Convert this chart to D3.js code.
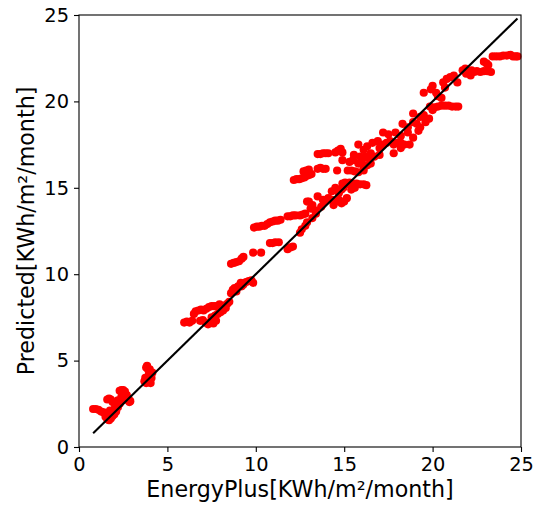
<!DOCTYPE html>
<html>
<head>
<meta charset="utf-8">
<script src="https://cdn.jsdelivr.net/npm/d3@7"></script>
<style>
  html, body { margin: 0; padding: 0; background: #fff; }
  svg { display: block; }
  text { font-family: "DejaVu Sans", sans-serif; fill: #000; }
</style>
</head>
<body>
<div id="chart"></div>
<script>
// ---- data ----
const energyPlus = [
  0.8,0.95,1.1,1.25,1.4,1.5,1.6,1.7,1.8,1.9,2.0,1.6,1.7,1.8,1.9,2.0,2.1,2.2,2.05,2.2,2.3,2.4,2.5,2.6,2.7,2.8,2.85,2.9,2.4,2.5,2.3,1.75,1.55,
  3.7,3.75,3.8,3.85,3.9,3.95,4.0,4.05,4.1,4.15,4.0,3.8,3.9,
  5.95,6.1,6.25,6.4,6.5,6.6,6.75,6.9,7.05,7.2,7.35,7.5,7.65,7.8,7.95,6.85,7.0,7.15,7.3,7.45,7.6,7.75,7.5,7.7,7.85,8.0,8.15,8.3,8.4,8.5,8.25,8.1,
  8.6,8.7,8.8,8.9,9.0,9.15,9.3,9.45,9.6,9.75,9.85,9.2,8.6,8.75,8.9,9.05,9.2,9.3,9.85,10.3,
  9.9,10.05,10.2,10.35,10.5,10.65,10.8,10.95,11.1,11.25,11.4,11.8,11.95,12.1,12.25,12.5,12.65,12.8,
  10.8,10.95,11.1,11.3,11.8,11.95,12.1,12.5,12.6,12.8,12.9,
  12.15,12.3,12.45,12.6,12.75,12.9,13.05,13.15,
  12.7,12.85,13.0,13.5,13.65,13.8,13.95,14.6,15.2,15.4,15.6,15.8,16.1,
  13.5,13.65,13.8,13.95,14.1,14.5,14.65,14.8,14.9,15.55,15.8,
  14.9,15.3,15.5,15.8,16.0,16.2,16.4,16.5,16.3,16.1,
  13.0,13.2,13.1,13.35,13.5,13.7,13.8,13.9,14.1,14.3,14.4,14.55,14.7,14.85,15.0,15.15,14.7,14.85,14.3,14.5,14.95,15.1,13.2,13.4,12.9,
  14.9,15.05,15.3,15.5,15.7,15.9,16.1,16.25,15.4,15.6,
  15.9,16.1,16.3,16.6,16.9,17.2,17.0,17.4,17.6,17.8,18.0,18.2,18.4,18.2,18.7,16.5,16.7,17.0,17.8,
  17.2,17.5,17.9,18.2,18.6,18.9,18.3,18.6,18.9,19.1,19.2,18.9,19.3,19.5,19.8,19.6,19.3,
  19.5,19.9,20.0,20.2,20.0,20.3,20.5,20.6,20.8,21.0,21.2,21.4,20.7,
  19.85,20.1,20.3,20.5,20.7,20.9,21.1,21.3,21.45,
  21.7,21.85,22.0,22.2,22.35,22.5,22.7,22.9,23.1,23.3,22.9,23.05,23.15,21.9,22.15,
  23.4,23.6,23.8,24.0,24.2,24.4,24.55,24.7,24.8
];
const predicted = [
  2.2,2.2,2.15,2.05,2.0,1.75,1.6,1.55,1.65,1.8,1.9,2.75,2.8,2.75,2.6,2.2,2.05,2.3,2.5,2.7,3.25,3.3,3.3,3.2,3.0,2.8,2.6,2.65,2.9,2.7,2.5,2.1,1.9,
  3.8,4.0,4.6,4.7,4.5,4.2,3.9,3.7,4.0,4.3,4.5,3.7,3.9,
  7.2,7.25,7.2,7.3,7.7,7.85,7.9,7.95,7.9,8.0,8.1,8.15,8.15,8.15,8.25,7.3,7.35,7.2,7.1,7.2,7.15,7.3,7.5,7.6,7.7,7.8,7.9,8.05,8.3,8.4,8.2,8.0,
  8.9,9.1,9.2,9.0,9.3,9.5,9.4,9.55,9.6,9.65,9.5,9.3,10.6,10.65,10.7,10.75,10.9,11.0,11.25,11.25,
  12.7,12.75,12.75,12.8,12.8,12.9,13.0,13.05,13.1,13.1,13.15,13.35,13.35,13.4,13.4,13.4,13.45,13.5,
  11.8,11.8,11.85,11.85,11.45,11.55,11.6,12.4,12.6,12.8,13.0,
  15.45,15.5,15.5,15.55,15.6,15.7,15.75,15.8,
  15.95,16.0,16.05,16.1,16.15,16.1,16.1,16.0,16.0,16.0,15.95,15.9,16.0,
  16.95,16.95,17.0,17.0,17.0,17.05,17.15,17.25,17.05,16.9,17.5,
  16.6,16.5,16.6,16.4,16.6,16.8,16.7,17.0,16.3,16.2,
  14.2,14.0,13.8,13.7,14.5,13.9,14.3,14.2,14.4,14.3,14.0,14.2,14.3,14.1,14.2,14.4,14.7,14.9,14.8,15.0,15.0,15.2,13.25,13.5,14.2,
  15.25,15.3,15.3,15.25,15.25,15.2,15.2,15.15,14.9,15.0,
  16.8,17.2,17.4,17.6,17.7,17.5,17.3,17.6,17.7,17.5,17.6,17.6,17.5,17.3,17.5,16.4,16.8,16.9,17.0,
  18.2,18.1,18.2,18.0,18.2,17.9,18.7,18.5,18.8,18.7,18.3,19.3,19.1,19.2,19.0,18.8,18.5,
  20.5,20.7,20.9,20.5,19.5,20.3,20.2,21.1,21.3,21.4,21.5,21.1,20.8,
  19.7,19.65,19.7,19.75,19.75,19.75,19.7,19.7,19.7,
  21.8,21.9,21.7,21.8,21.7,21.75,21.7,21.75,21.75,21.7,22.3,22.2,22.1,21.6,21.5,
  22.6,22.6,22.6,22.65,22.65,22.7,22.6,22.6,22.6
];
const fitLineX = [0.8, 24.8];
const tickValues = [0, 5, 10, 15, 20, 25];
const xLabel = "EnergyPlus[KWh/m\u00b2/month]";
const yLabel = "Predicted[KWh/m\u00b2/month]";

// ---- layout ----
const W = 537, H = 506;
const m = { left: 79, right: 16, top: 15, bottom: 59 };
const svg = d3.select("#chart").append("svg").attr("width", W).attr("height", H);

const x = d3.scaleLinear().domain([0, 25]).range([m.left, W - m.right]);
const y = d3.scaleLinear().domain([0, 25]).range([H - m.bottom, m.top]);

// points
const pts = energyPlus.map((v, i) => ({ x: v, y: predicted[i] }));
svg.append("g").selectAll("circle").data(pts).join("circle")
  .attr("cx", d => x(d.x)).attr("cy", d => y(d.y)).attr("r", 4.1)
  .attr("fill", "#ff0000");

// y = x line
svg.append("path")
  .datum(fitLineX.map(v => [v, v]))
  .attr("d", d3.line().x(d => x(d[0])).y(d => y(d[1])))
  .attr("stroke", "#000").attr("stroke-width", 2.1).attr("fill", "none");

// axes
const fs = 19.4, lfs = 22.2;
const gx = svg.append("g").attr("transform", `translate(0,${H - m.bottom})`)
  .call(d3.axisBottom(x).tickValues(tickValues).tickSize(5).tickPadding(5).tickSizeOuter(0));
const gy = svg.append("g").attr("transform", `translate(${m.left},0)`)
  .call(d3.axisLeft(y).tickValues(tickValues).tickSize(5).tickPadding(5).tickSizeOuter(0));
[gx, gy].forEach(g => {
  g.select(".domain").remove();
  g.selectAll("line").attr("stroke", "#000").attr("stroke-width", 1.1);
  g.selectAll("text").style("font-size", fs + "px").style("font-family", "DejaVu Sans").attr("fill", "#000");
});

// frame
svg.append("rect")
  .attr("x", m.left).attr("y", m.top)
  .attr("width", W - m.left - m.right).attr("height", H - m.top - m.bottom)
  .attr("fill", "none").attr("stroke", "#000").attr("stroke-width", 1.1);

// labels
svg.append("text")
  .attr("x", (m.left + W - m.right) / 2).attr("y", 497)
  .attr("text-anchor", "middle").style("font-size", lfs + "px")
  .text(xLabel);
svg.append("text")
  .attr("transform", `translate(34,${(m.top + H - m.bottom) / 2}) rotate(-90)`)
  .attr("text-anchor", "middle").style("font-size", lfs + "px")
  .text(yLabel);
</script>
</body>
</html>
